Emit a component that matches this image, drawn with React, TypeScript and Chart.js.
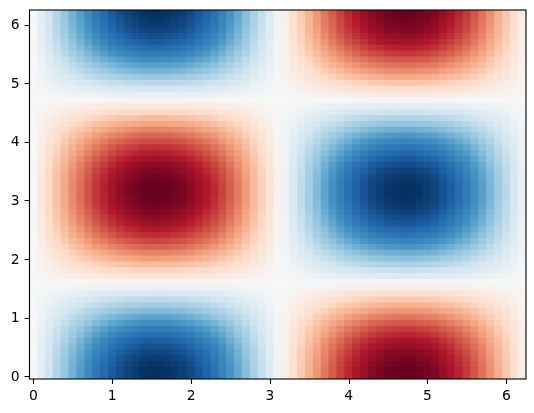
import React, { useEffect, useRef } from "react";
import { Chart, registerables } from "chart.js";

Chart.register(...registerables);

// Cell centres on each axis (spacing: 0.1 per cell).
const xCenters = [
  0, 0.1, 0.2, 0.3, 0.4, 0.5, 0.6, 0.7, 0.8, 0.9, 1, 1.1, 1.2, 1.3, 1.4, 1.5, 1.6, 1.7, 1.8, 1.9, 2, 2.1, 2.2, 2.3, 2.4, 2.5, 2.6, 2.7, 2.8, 2.9, 3, 3.1,
  3.2, 3.3, 3.4, 3.5, 3.6, 3.7, 3.8, 3.9, 4, 4.1, 4.2, 4.3, 4.4, 4.5, 4.6, 4.7, 4.8, 4.9, 5, 5.1, 5.2, 5.3, 5.4, 5.5, 5.6, 5.7, 5.8, 5.9, 6, 6.1, 6.2,
];
const yCenters = xCenters;

// The field separates into a column profile times a row profile; these are listed value by value.
const columnProfile = [
  0, 0.1, 0.2, 0.3, 0.39, 0.48, 0.56, 0.64, 0.72, 0.78, 0.84, 0.89, 0.93, 0.96, 0.99, 1, 1, 0.99, 0.97, 0.95, 0.91, 0.86, 0.81, 0.75, 0.68, 0.6, 0.52, 0.43, 0.33, 0.24, 0.14, 0.04,
  -0.06, -0.16, -0.26, -0.35, -0.44, -0.53, -0.61, -0.69, -0.76, -0.82, -0.87, -0.92, -0.95, -0.98, -0.99, -1, -1, -0.98, -0.96, -0.93, -0.88, -0.83, -0.77, -0.71, -0.63, -0.55, -0.46, -0.37, -0.28, -0.18, -0.08,
];
const rowProfile = [
  1, 0.995, 0.98, 0.955, 0.92, 0.88, 0.83, 0.76, 0.7, 0.62, 0.54, 0.45, 0.36, 0.27, 0.17, 0.07, -0.03, -0.13, -0.23, -0.32, -0.42, -0.5, -0.59, -0.67, -0.74, -0.8, -0.86, -0.9, -0.94, -0.97, -0.99, -1,
  -1, -0.99, -0.97, -0.94, -0.9, -0.85, -0.79, -0.73, -0.66, -0.58, -0.49, -0.4, -0.31, -0.21, -0.11, -0.01, 0.09, 0.19, 0.28, 0.38, 0.47, 0.55, 0.63, 0.71, 0.78, 0.84, 0.89, 0.93, 0.96, 0.98, 1,
];
const tickValues = [0, 1, 2, 3, 4, 5, 6];

const rdBu = [
  [103, 0, 31], [178, 24, 43], [214, 96, 77], [244, 165, 130], [253, 219, 199], [247, 247, 247],
  [209, 229, 240], [146, 197, 222], [67, 147, 195], [33, 102, 172], [5, 48, 97],
];

function colorOf(v: number) {
  const t = Math.max(0, Math.min(0.9999, (v + 1) / 2)) * (rdBu.length - 1);
  const i = Math.floor(t);
  const f = t - i;
  const c = rdBu[i].map((a, k) => Math.round(a + (rdBu[i + 1][k] - a) * f));
  return `rgb(${c[0]},${c[1]},${c[2]})`;
}

const halfCell = 0.05;
const tickLength = 4.9;

const frame = {
  id: "frame",
  afterDraw(chart: any) {
    const { ctx, chartArea: a, scales } = chart;
    ctx.save();
    ctx.strokeStyle = "#000";
    ctx.lineWidth = 1.1;
    ctx.strokeRect(a.left, a.top, a.right - a.left, a.bottom - a.top);
    ctx.beginPath();
    for (const v of tickValues) {
      const px = Math.round(scales.x.getPixelForValue(v)) + 0.5;
      ctx.moveTo(px, a.bottom);
      ctx.lineTo(px, a.bottom + tickLength);
      const py = Math.round(scales.y.getPixelForValue(v)) + 0.5;
      ctx.moveTo(a.left, py);
      ctx.lineTo(a.left - tickLength, py);
    }
    ctx.stroke();
    ctx.restore();
  },
};

function fixBox(s: any, size: Record<string, number>) {
  Object.assign(s, size);
  s.paddingLeft = s.paddingRight = s.paddingTop = s.paddingBottom = 0;
}

export default function App() {
  const ref = useRef<HTMLCanvasElement>(null);
  useEffect(() => {
    const datasets = yCenters.map((y, r) => ({
      data: xCenters.map((x) => ({ x, y: [y - halfCell, y + halfCell] })),
      backgroundColor: columnProfile.map((c) => colorOf(c * rowProfile[r])),
      borderWidth: 0,
      inflateAmount: 0.4,
      barPercentage: 1,
      categoryPercentage: 1,
      stack: "cells",
    }));
    const font = { family: "'DejaVu Sans'", size: 13.9 };
    const grid = { drawOnChartArea: false, drawTicks: false, offset: false };
    const ticks = {
      stepSize: 1,
      includeBounds: false,
      autoSkip: false,
      maxRotation: 0,
      color: "#000",
      font,
      callback: (v: number) => (tickValues.includes(v) ? String(v) : ""),
    };
    const chart = new Chart(ref.current!, {
      type: "bar",
      data: { datasets } as any,
      plugins: [frame],
      options: {
        responsive: false,
        animation: false,
        layout: { padding: { top: 10, right: 8, left: 0, bottom: 0 } },
        plugins: { legend: { display: false }, tooltip: { enabled: false } },
        scales: {
          x: {
            type: "linear",
            stacked: true,
            offset: false,
            min: -0.05,
            max: 6.25,
            grid,
            border: { display: false },
            ticks: { ...ticks, padding: 9.2 },
            afterFit: (s: any) => fixBox(s, { height: 34 }),
          },
          y: {
            type: "linear",
            stacked: false,
            min: -0.05,
            max: 6.25,
            grid,
            border: { display: false },
            ticks: { ...ticks, padding: tickLength * 2, labelOffset: 1 },
            afterFit: (s: any) => fixBox(s, { width: 29.5 }),
          },
        },
      } as any,
    });
    return () => chart.destroy();
  }, []);
  return <canvas ref={ref} width={534} height={413} style={{ position: "absolute", left: 0, top: 0 }} />;
}
